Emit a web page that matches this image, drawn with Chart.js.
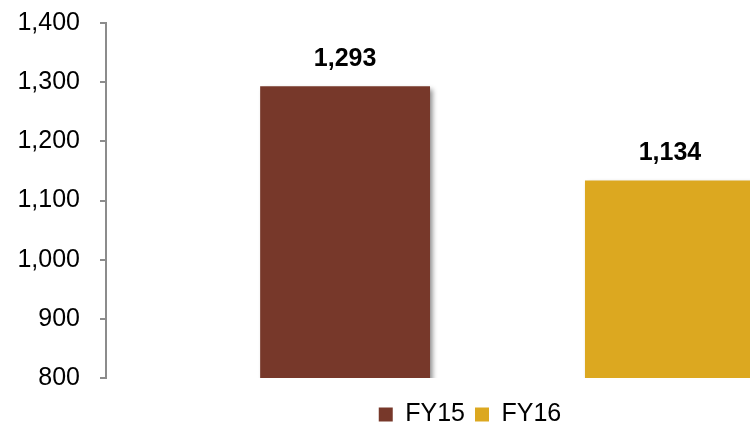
<!DOCTYPE html>
<html lang="en">
<head>
    <meta charset="UTF-8">
    <title>FY15 vs FY16</title>
    <script src="https://cdn.jsdelivr.net/npm/chart.js"></script>
    <style>
    body {
        margin: 0;
        width: 750px;
        height: 426px;
        overflow: hidden;
        background: #fff;
    }
    canvas {
        display: block;
    }
</style>
</head>
<body>
    <!-- chart is wider than the window, the right edge gets cut like the original -->
    <canvas id="fyChart" width="940" height="437"></canvas>
    <script>
        // data
        const seriesNames = ['FY15', 'FY16'];
        const seriesValues = [1293, 1134];
        const yMin = 800;
        const yMax = 1400;
        const yStep = 100;

        const barColors = ['#77382A', '#DCA820'];
        const fontFamily = '"Liberation Sans", Arial, sans-serif';

        // shadow behind the bars
        const barShadow = {
            id: 'barShadow',
            beforeDatasetsDraw(chart) {
                const c = chart.ctx;
                c.save();
                c.shadowColor = 'rgba(0,0,0,0.45)';
                c.shadowBlur = 5;
                c.shadowOffsetX = 3;
                c.shadowOffsetY = 3;
            },
            afterDatasetsDraw(chart) {
                chart.ctx.restore();
            }
        };

        // value labels above bars
        const valueLabels = {
            id: 'valueLabels',
            afterDatasetsDraw(chart) {
                const c = chart.ctx;
                c.save();
                c.font = 'bold 25px ' + fontFamily;
                c.fillStyle = '#000';
                c.textAlign = 'center';
                c.textBaseline = 'middle';
                chart.data.datasets.forEach((ds, i) => {
                    const meta = chart.getDatasetMeta(i);
                    meta.data.forEach((bar, j) => {
                        c.fillText(ds.data[j].toLocaleString('en-US'), bar.x, bar.y - 27);
                    });
                });
                c.restore();
            }
        };

        const ctx = document.getElementById('fyChart').getContext('2d');

        new Chart(ctx, {
            type: 'bar',
            data: {
                labels: [''],
                datasets: seriesNames.map((name, i) => ({
                    label: name,
                    data: [seriesValues[i]],
                    backgroundColor: barColors[i],
                    borderWidth: 0,
                    categoryPercentage: 0.809,
                    barPercentage: 0.523
                }))
            },
            options: {
                responsive: false,
                animation: false,
                layout: {
                    padding: { top: 23, right: 0, left: 0, bottom: 0 }
                },
                plugins: {
                    tooltip: { enabled: false },
                    legend: {
                        position: 'bottom',
                        labels: {
                            boxWidth: 14,
                            boxHeight: 14,
                            padding: 10,
                            color: '#000',
                            font: { family: fontFamily, size: 25 }
                        }
                    }
                },
                scales: {
                    // hidden x axis, only keeps a gap above the legend
                    x: {
                        display: true,
                        grid: { display: false },
                        border: { display: false },
                        ticks: { display: false },
                        afterFit(scale) {
                            scale.height = 14;
                        }
                    },
                    y: {
                        min: yMin,
                        max: yMax,
                        afterFit(scale) {
                            scale.width = 106;
                            scale.paddingTop = 0;
                            scale.paddingBottom = 0;
                        },
                        ticks: {
                            stepSize: yStep,
                            padding: 20,
                            color: '#000',
                            font: { family: fontFamily, size: 25 }
                        },
                        grid: {
                            drawOnChartArea: false,
                            drawTicks: true,
                            tickLength: 6,
                            color: '#8c8c8c',
                            lineWidth: 2
                        },
                        border: {
                            display: true,
                            color: '#8c8c8c',
                            width: 2
                        }
                    },
                    // empty right axis so the plot ends before the legend centre shifts
                    yRight: {
                        position: 'right',
                        display: true,
                        grid: { display: false },
                        border: { display: false },
                        ticks: { display: false },
                        afterFit(scale) {
                            scale.width = 31;
                            scale.paddingTop = 0;
                            scale.paddingBottom = 0;
                        }
                    }
                }
            },
            plugins: [barShadow, valueLabels]
        });
    </script>
</body>
</html>
